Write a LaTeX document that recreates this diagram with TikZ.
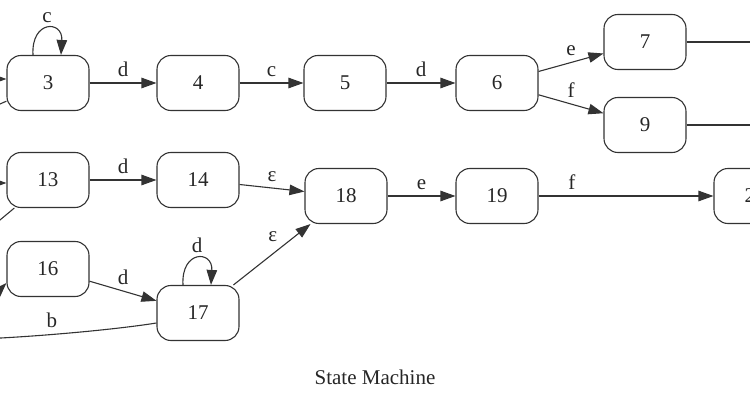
\documentclass[tikz,border=0pt]{standalone}
\usepackage{fontspec}
\setmainfont{Liberation Serif}
\usepackage{tikz}
\usetikzlibrary{arrows,arrows.meta}
\usetikzlibrary{calc, positioning, shapes}
\tikzset{
    stateN/.style={draw=black!80, line width=1.1pt, rounded corners=14pt,
        minimum width=82pt, minimum height=55pt, inner sep=0pt},
    tran/.style={-{Triangle[length=15pt, width=10.5pt]}, line width=1.1pt, draw=black!80},
    tail/.style={line width=1.1pt, draw=black!80},
    lbl/.style={above, inner sep=2pt, text height=15pt, text depth=4pt}
}

\begin{document}
\begin{tikzpicture}[x=1pt, y=1pt]
    \tikzstyle{every node}=[font=\fontsize{21}{25}\selectfont, text=black!85];
    \useasboundingbox (0,0) rectangle (750,400);
    \clip (0,0) rectangle (750,400);
    % upper row
    \node[stateN] (s3) at (48,317) {3};
    \node[stateN] (s4) at (198,317) {4};
    \node[stateN] (s5) at (345,317) {5};
    \node[stateN] (s6) at (497,317) {6};
    \node[stateN] (s7) at (645,358) {7};
    \node[stateN] (s9) at (645,275) {9};
    % middle row
    \node[stateN] (s13) at (48,220) {13};
    \node[stateN] (s14) at (198,220) {14};
    \node[stateN] (s18) at (346,204) {18};
    \node[stateN] (s19) at (497,204) {19};
    \node[stateN] (s20) at (755,204) {20};
    % lower row
    \node[stateN] (s16) at (48,131) {16};
    \node[stateN] (s17) at (198,87) {17};
    \node (cap) at (375,23) {State Machine};
    % ends outside the frame
    \coordinate (i3) at (-40,321);
    \coordinate (o3) at (-40,278.5);
    \coordinate (i13) at (-40,217);
    \coordinate (o13) at (-40,146.7);
    \coordinate (i16) at (-25,85);
    \coordinate (o17) at (-60,60);
    \coordinate (o7) at (800,358);
    \coordinate (o9) at (800,275);
    \draw[tran] (i3) -- ([yshift=4pt]s3.west);
    \draw[tail] (s3) -- (o3);
    \draw[tran] (i13) -- ([yshift=-3pt]s13.west);
    \draw[tail] (s13) -- (o13);
    \draw[tran] (i16) -- ([yshift=-14pt]s16.west);
    \draw[tail] (s7) -- (o7);
    \draw[tail] (s9) -- (o9);
    % transitions
    \draw[tran] ([xshift=-15pt]s3.north) .. controls +(-2,35) and +(2,35) .. node[lbl]{c} ([xshift=13pt]s3.north);
    \draw[tran] (s3) -- node[lbl]{d} (s4);
    \draw[tran] (s4) -- node[lbl]{c} (s5);
    \draw[tran] (s5) -- node[lbl]{d} (s6);
    \draw[tran] (s6) -- node[lbl]{e} (s7);
    \draw[tran] (s6) -- node[lbl]{f} (s9);
    \draw[tran] (s13) -- node[lbl]{d} (s14);
    \draw[tran] (s14) -- node[lbl]{ε} (s18);
    \draw[tran] (s18) -- node[lbl]{e} (s19);
    \draw[tran] (s19) -- node[lbl, pos=0.19]{f} (s20);
    \draw[tran] (s16) -- node[lbl]{d} (s17);
    \draw[tran] ([xshift=-15pt]s17.north) .. controls +(-2,35) and +(2,35) .. node[lbl]{d} ([xshift=13pt]s17.north);
    \draw[tran] (s17) -- node[lbl, above left, pos=0.6]{ε} (s18);
    \draw[tail] ([yshift=-10pt]s17.west) .. controls +(-50,-8) and +(60,0) .. node[lbl]{b} (o17);
\end{tikzpicture}
\end{document}
